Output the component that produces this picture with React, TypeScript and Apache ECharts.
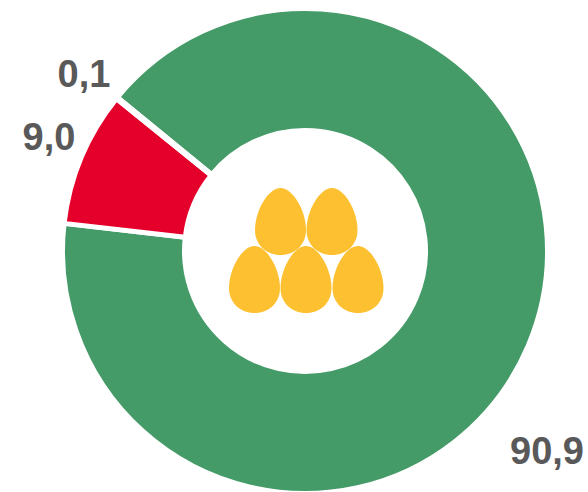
import React, { useEffect, useRef } from "react";
import * as echarts from "echarts";

const categories = ["Green", "Red", "Other"];
const seriesValues = [90.9, 9.0, 0.1];
const valueLabels = ["90,9", "9,0", "0,1"];
const sliceColors = ["#459B68", "#E4002B", "#A6A6A6"];
const labelSpots = [
  { x: 547, y: 451 },
  { x: 49, y: 137 },
  { x: 84, y: 74 },
];
const eggSpots = [
  [255, 188],
  [306.5, 188],
  [229, 246],
  [280.5, 246],
  [332.5, 246],
];
const EGG_PATH =
  "M25.5 0C38 0 51 23 51 42C51 57 39.5 67 25.5 67C11.5 67 0 57 0 42C0 23 13 0 25.5 0Z";

echarts.graphic.registerShape("egg", echarts.graphic.extendPath(EGG_PATH, {}));

export default function App() {
  const ref = useRef<HTMLDivElement>(null);
  useEffect(() => {
    document.body.style.margin = "0";
    const chart = echarts.init(ref.current!, null, { renderer: "svg" });
    chart.setOption({
      animation: false,
      backgroundColor: "#ffffff",
      series: [
        {
          type: "pie",
          center: [305, 251],
          radius: [120.5, 242.5],
          startAngle: 140.7,
          clockwise: true,
          silent: true,
          itemStyle: { borderColor: "#ffffff", borderWidth: 5 },
          label: {
            show: true,
            position: "outside",
            overflow: "none",
            formatter: (p: any) => valueLabels[p.dataIndex],
            fontFamily: "'Liberation Sans', Arial, sans-serif",
            fontWeight: "bold",
            fontSize: 38,
            color: "#595959",
          },
          labelLine: { show: false },
          labelLayout: (p: any) => ({
            x: labelSpots[p.dataIndex].x,
            y: labelSpots[p.dataIndex].y,
            align: "center",
            verticalAlign: "middle",
          }),
          data: categories.map((name, i) => ({
            name,
            value: seriesValues[i],
            itemStyle: { color: sliceColors[i] },
          })),
        },
      ],
      graphic: eggSpots.map(([x, y]) => ({
        type: "egg",
        x,
        y,
        silent: true,
        style: { fill: "#FDC030" },
      })),
    });
    return () => chart.dispose();
  }, []);
  return <div ref={ref} style={{ width: 588, height: 492 }} />;
}
